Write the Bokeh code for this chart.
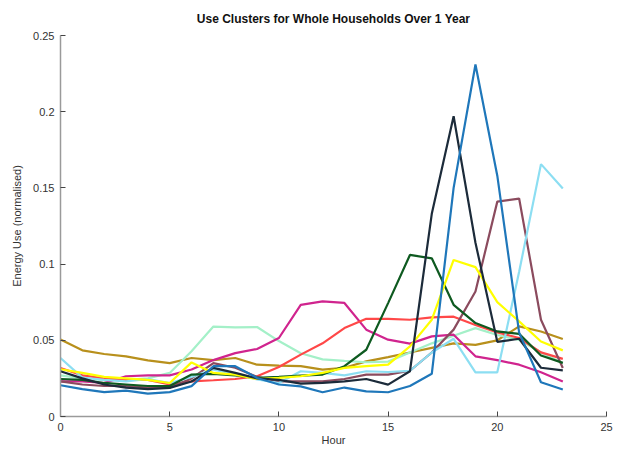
from bokeh.plotting import figure
from bokeh.models import Range1d, FixedTicker
from bokeh.embed import file_html
from bokeh.resources import INLINE

hours = list(range(24))

blue = [0.0205, 0.018, 0.016, 0.017, 0.015, 0.016, 0.0199, 0.033, 0.033, 0.0253, 0.021, 0.0198,
        0.0159, 0.019, 0.0165, 0.0159, 0.020, 0.028, 0.150, 0.231, 0.158, 0.055, 0.0225, 0.0177]
navy = [0.0297, 0.025, 0.021, 0.019, 0.018, 0.0188, 0.023, 0.0319, 0.0286, 0.025, 0.024, 0.0216,
        0.022, 0.023, 0.0246, 0.0209, 0.0297, 0.133, 0.197, 0.114, 0.049, 0.051, 0.032, 0.0303]
mauve = [0.023, 0.021, 0.020, 0.020, 0.019, 0.019, 0.025, 0.035, 0.032, 0.026, 0.023, 0.0231,
         0.023, 0.0246, 0.0275, 0.0275, 0.030, 0.042, 0.057, 0.082, 0.141, 0.143, 0.0635, 0.0318]
light_blue = [0.0384, 0.0255, 0.024, 0.023, 0.0246, 0.022, 0.026, 0.0308, 0.028, 0.0243, 0.022, 0.0297,
              0.0286, 0.027, 0.0297, 0.0292, 0.030, 0.042, 0.051, 0.029, 0.029, 0.095, 0.1656, 0.1496]
dark_green = [0.0246, 0.024, 0.022, 0.021, 0.020, 0.020, 0.0275, 0.028, 0.027, 0.0253, 0.026, 0.0268,
              0.0275, 0.033, 0.0438, 0.0744, 0.106, 0.1038, 0.0733, 0.0613, 0.0558, 0.0542, 0.040, 0.0352]
yellow = [0.031, 0.0286, 0.026, 0.025, 0.024, 0.022, 0.0355, 0.0286, 0.0275, 0.0246, 0.0253, 0.0264,
          0.0286, 0.0319, 0.033, 0.034, 0.046, 0.0635, 0.1027, 0.098, 0.075, 0.0624, 0.0492, 0.0434]
red = [0.0318, 0.027, 0.025, 0.024, 0.024, 0.021, 0.0231, 0.0238, 0.0246, 0.0264, 0.0325, 0.0406,
       0.048, 0.058, 0.0641, 0.0641, 0.0635, 0.065, 0.0655, 0.060, 0.0552, 0.0515, 0.0421, 0.0378]
magenta = [0.0231, 0.0231, 0.022, 0.0264, 0.027, 0.027, 0.0308, 0.037, 0.0416, 0.0443, 0.0515, 0.0733,
           0.0755, 0.0745, 0.057, 0.0504, 0.0478, 0.0526, 0.0537, 0.0395, 0.037, 0.034, 0.029, 0.023]
gold = [0.0505, 0.0434, 0.041, 0.0395, 0.0368, 0.035, 0.0384, 0.037, 0.0384, 0.034, 0.0334, 0.033,
        0.0308, 0.032, 0.0362, 0.039, 0.042, 0.045, 0.048, 0.047, 0.050, 0.0591, 0.0558, 0.0508]
mint = [0.027, 0.025, 0.024, 0.024, 0.025, 0.0286, 0.0428, 0.059, 0.0585, 0.0587, 0.0495, 0.0415,
        0.0375, 0.0365, 0.0356, 0.036, 0.042, 0.048, 0.053, 0.058, 0.0535, 0.0503, 0.042, 0.035]

series = [
    (gold, "#B8901C"),
    (mint, "#A4F0C8"),
    (magenta, "#D0248E"),
    (red, "#FF4848"),
    (mauve, "#8B4B5E"),
    (light_blue, "#8CDEF2"),
    (dark_green, "#0E5A20"),
    (yellow, "#FFFF00"),
    (navy, "#1C2B3A"),
    (blue, "#1F77BA"),
]

x_ticks = [0, 5, 10, 15, 20, 25]
y_ticks = [0, 0.05, 0.1, 0.15, 0.2, 0.25]
y_tick_labels = ["0", "0.05", "0.1", "0.15", "0.2", "0.25"]

p = figure(width=613, height=448, output_backend="svg", toolbar_location=None,
           x_range=Range1d(0, 25), y_range=Range1d(0, 0.25),
           min_border_left=60, min_border_right=7, min_border_top=33, min_border_bottom=32,
           title="Use Clusters for Whole Households Over 1 Year")

p.title.align = "center"
p.title.text_font = "Liberation Sans"
p.title.text_font_size = "12px"
p.title.text_font_style = "bold"
p.title.text_color = "#111111"
p.title.standoff = 19

p.outline_line_color = None
p.xgrid.grid_line_color = None
p.ygrid.grid_line_color = None
p.background_fill_color = "white"

for vals, col in series:
    p.line(hours, vals, line_color=col, line_width=2.2)

p.xaxis.ticker = FixedTicker(ticks=x_ticks)
p.yaxis.ticker = FixedTicker(ticks=y_ticks)
p.yaxis.major_label_overrides = {t: s for t, s in zip(y_ticks, y_tick_labels)}

for ax in (p.xaxis[0], p.yaxis[0]):
    ax.axis_line_color = "#9a9a9a"
    ax.axis_line_width = 1.5
    ax.major_tick_line_color = "#444444"
    ax.major_tick_in = 5
    ax.major_tick_out = 0
    ax.minor_tick_line_color = None
    ax.major_label_text_font = "Liberation Sans"
    ax.major_label_text_font_size = "11px"
    ax.major_label_text_color = "#333333"
    ax.axis_label_text_font = "Liberation Sans"
    ax.axis_label_text_font_size = "11px"
    ax.axis_label_text_font_style = "normal"
    ax.axis_label_text_color = "#333333"

p.xaxis.axis_label = "Hour"
p.yaxis.axis_label = "Energy Use (normalised)"
p.xaxis.major_label_standoff = 6
p.xaxis.axis_label_standoff = 0
p.yaxis.major_label_standoff = 6
p.yaxis.axis_label_standoff = 7

open("out.html", "w").write(file_html(p, INLINE))
